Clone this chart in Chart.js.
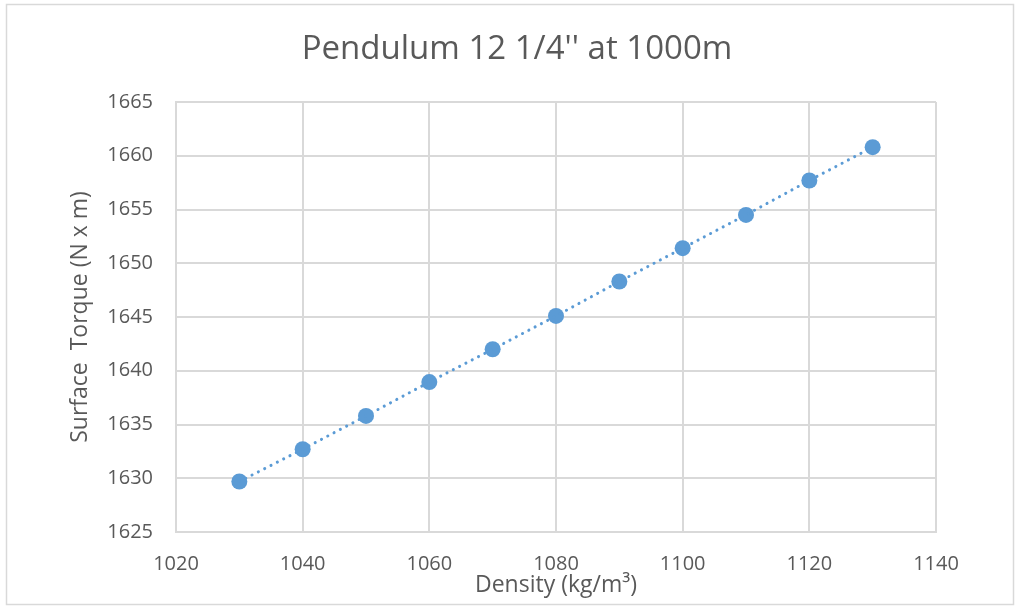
<!DOCTYPE html>
<html>
<head>
<meta charset="utf-8">
<script src="https://cdn.jsdelivr.net/npm/chart.js@4/dist/chart.umd.min.js"></script>
<style>
  html, body { margin: 0; padding: 0; background: #ffffff; }
  #wrap { position: absolute; left: 0; top: 0; width: 1016px; height: 607px; }
</style>
</head>
<body>
<div id="wrap"><canvas id="c" width="1016" height="607"></canvas></div>
<script>
const chartTitle = "Pendulum 12 1/4'' at 1000m";
const xAxisTitle = "Density (kg/m\u00B3)";
const yAxisTitle = "Surface  Torque (N x m)";
const density = [1030, 1040, 1050, 1060, 1070, 1080, 1090, 1100, 1110, 1120, 1130];
const torque = [1629.7, 1632.7, 1635.8, 1638.95, 1642.0, 1645.1, 1648.3, 1651.4, 1654.5, 1657.7, 1660.8];
const xTicks = [1020, 1040, 1060, 1080, 1100, 1120, 1140];
const yTicks = [1625, 1630, 1635, 1640, 1645, 1650, 1655, 1660, 1665];

const points = density.map((d, i) => ({ x: d, y: torque[i] }));
const TEXT = '#595959';
const GRID = '#d9d9d9';
const BLUE = '#5B9BD5';

const framePlugin = {
  id: 'frameAndTitle',
  beforeDraw(chart) {
    const ctx = chart.ctx;
    ctx.save();
    ctx.fillStyle = '#ffffff';
    ctx.fillRect(0, 0, chart.width, chart.height);
    ctx.strokeStyle = GRID;
    ctx.lineWidth = 1.5;
    ctx.strokeRect(6.5, 4.5, 1007, 600);
    ctx.fillStyle = TEXT;
    ctx.font = 'normal 33px "Open Sans"';
    ctx.textAlign = 'center';
    ctx.textBaseline = 'alphabetic';
    ctx.fillText(chartTitle, 517, 59);
    ctx.restore();
  }
};

new Chart(document.getElementById('c'), {
  type: 'scatter',
  data: {
    datasets: [
      {
        label: 'Trend',
        data: points,
        showLine: true,
        borderColor: BLUE,
        borderWidth: 3,
        borderDash: [0.1, 7],
        borderCapStyle: 'round',
        pointRadius: 0,
        fill: false
      },
      {
        label: 'Torque',
        data: points,
        showLine: false,
        pointRadius: 8,
        pointBackgroundColor: BLUE,
        pointBorderColor: BLUE,
        pointBorderWidth: 0
      }
    ]
  },
  options: {
    responsive: false,
    animation: false,
    devicePixelRatio: 1,
    layout: { padding: { left: 0, right: 80, top: 102, bottom: 0 } },
    plugins: {
      legend: { display: false },
      tooltip: { enabled: false },
      title: { display: false }
    },
    scales: {
      x: {
        type: 'linear',
        min: 1020,
        max: 1140,
        afterBuildTicks(scale) { scale.ticks = xTicks.map(v => ({ value: v })); },
        afterFit(scale) { scale.height = 75; },
        grid: { color: GRID, lineWidth: 2, drawTicks: false },
        border: { color: GRID, width: 2 },
        ticks: {
          color: TEXT,
          padding: 20,
          font: { family: 'Open Sans', size: 20 },
          maxRotation: 0,
          callback: v => String(v)
        },
        title: {
          display: true,
          text: xAxisTitle,
          color: TEXT,
          font: { family: 'Open Sans', size: 23 },
          padding: { top: 0, bottom: 8 }
        }
      },
      y: {
        type: 'linear',
        min: 1625,
        max: 1665,
        afterBuildTicks(scale) { scale.ticks = yTicks.map(v => ({ value: v })); },
        afterFit(scale) { scale.width = 176; },
        grid: { color: GRID, lineWidth: 2, drawTicks: false },
        border: { color: GRID, width: 2 },
        ticks: {
          color: TEXT,
          padding: 23,
          font: { family: 'Open Sans', size: 20 },
          callback: v => String(v)
        },
        title: {
          display: true,
          text: yAxisTitle,
          color: TEXT,
          font: { family: 'Open Sans', size: 23 },
          padding: { top: 67, bottom: 0 }
        }
      }
    }
  },
  plugins: [framePlugin]
});
</script>
</body>
</html>
